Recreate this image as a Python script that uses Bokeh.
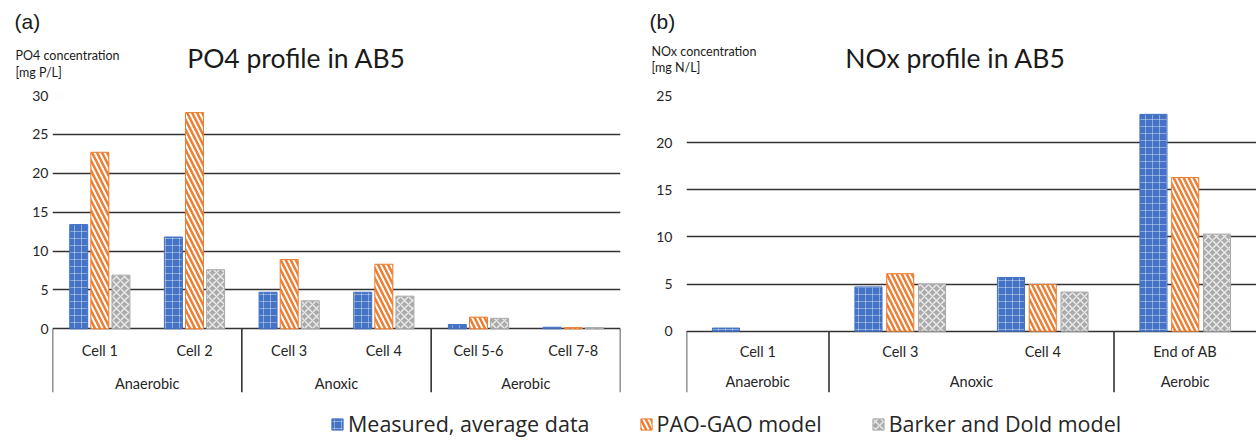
import numpy as np
from bokeh.plotting import figure
from bokeh.models import (ColumnDataSource, FactorRange, Range1d, FixedTicker,
                          Label, Legend, LegendItem)
from bokeh.transform import dodge
from bokeh.layouts import column, row
from bokeh.core.properties import value
from bokeh.embed import file_html
from bokeh.resources import INLINE

# ---------------- data ----------------
po4_cells = ["Cell 1", "Cell 2", "Cell 3", "Cell 4", "Cell 5-6", "Cell 7-8"]
po4_phases = ["Anaerobic", "Anaerobic", "Anoxic", "Anoxic", "Aerobic", "Aerobic"]
po4_measured = [13.4, 11.8, 4.7, 4.7, 0.55, 0.2]
po4_paogao = [22.7, 27.8, 8.9, 8.3, 1.5, 0.15]
po4_barker = [6.9, 7.6, 3.6, 4.2, 1.35, 0.15]
po4_ticks = [0, 5, 10, 15, 20, 25, 30]

nox_cells = ["Cell 1", "Cell 3", "Cell 4", "End of AB"]
nox_phases = ["Anaerobic", "Anoxic", "Anoxic", "Aerobic"]
nox_measured = [0.33, 4.7, 5.7, 23.0]
nox_paogao = [None, 6.1, 4.95, 16.3]
nox_barker = [None, 5.0, 4.15, 10.3]
nox_ticks = [0, 5, 10, 15, 20, 25]

series_names = ["Measured, average data", "PAO-GAO model", "Barker and Dold model"]

# ---------------- styles ----------------
STYLES = [
    dict(fill_color="#4472C4", line_color="#4472C4", hatch_pattern="cross",
         hatch_color="white", hatch_alpha=0.38, hatch_scale=7, hatch_weight=1),
    dict(fill_color="#ED7D31", line_color="#ED7D31", hatch_pattern="left_diagonal_line",
         hatch_color="white", hatch_alpha=1.0, hatch_scale=10, hatch_weight=2),
    dict(fill_color="#ABABAB", line_color="#ABABAB", hatch_pattern="diagonal_cross",
         hatch_color="white", hatch_alpha=0.75, hatch_scale=8, hatch_weight=1.4),
]
OFFSETS = [-0.223, 0.0, 0.223]
BAR_W = 0.19
FONT = "Lato"
TXT = "#262626"
GRID = "#333333"

W1, W2 = 644, 612          # widths of the left / right columns
HEAD_H = 80                # header strip height
ROW_H = 320                # chart row height
LEG_H = 41                 # legend strip height


def as_float(vals):
    return np.array([np.nan if v is None else v for v in vals], dtype=float)


def header(width, texts):
    h = figure(width=width, height=HEAD_H, x_range=Range1d(0, 1), y_range=Range1d(0, 1),
               output_backend="svg", toolbar_location=None, title=None,
               x_axis_location=None, y_axis_location=None, min_border=0,
               outline_line_color=None)
    h.xgrid.visible = False
    h.ygrid.visible = False
    for (t, x, y, font, size, align) in texts:
        h.add_layout(Label(x=x, y=HEAD_H - y, x_units="screen", y_units="screen",
                           text=t, text_font=font, text_font_size=size,
                           text_color="#1a1a1a", text_align=align,
                           text_baseline="middle"))
    return h


def make_panel(cells, phases, measured, paogao, barker, ticks, fig_w,
               border_left, border_right, border_top, axis_px, table_px,
               standoff, cell_dy, group_dy, draw_last_sep):
    factors = list(zip(phases, cells))
    xr = FactorRange(*factors, factor_padding=0, group_padding=0,
                     subgroup_padding=0, range_padding=0)
    ymax = ticks[-1]
    ymin = -ymax * table_px / axis_px
    border_bottom = ROW_H - border_top - int(round(axis_px + table_px))
    p = figure(x_range=xr, y_range=Range1d(ymin, ymax), width=fig_w, height=ROW_H,
               output_backend="svg", toolbar_location=None, title=None,
               x_axis_location=None, y_axis_location="left",
               min_border_left=border_left, min_border_right=border_right,
               min_border_top=border_top, min_border_bottom=border_bottom,
               outline_line_color=None)
    p.xgrid.visible = False
    p.ygrid.ticker = FixedTicker(ticks=ticks)
    p.ygrid.grid_line_color = GRID
    p.ygrid.grid_line_width = 1.6
    p.yaxis.ticker = FixedTicker(ticks=ticks)
    p.yaxis.axis_line_color = None
    p.yaxis.major_tick_line_color = None
    p.yaxis.minor_tick_line_color = None
    p.yaxis.major_tick_out = 0
    p.yaxis.major_tick_in = 0
    p.yaxis.major_label_standoff = standoff
    p.yaxis.major_label_text_font = FONT
    p.yaxis.major_label_text_font_size = "14px"
    p.yaxis.major_label_text_color = TXT

    src = ColumnDataSource(dict(x=factors, m=as_float(measured),
                                pg=as_float(paogao), bd=as_float(barker)))
    for key, off, st in zip(["m", "pg", "bd"], OFFSETS, STYLES):
        p.vbar(x=dodge("x", off, range=xr), top=key, bottom=0, width=BAR_W,
               source=src, line_width=1, **st)

    # category "table" below the axis
    px_per_unit = axis_px / ymax
    sizes = []
    for ph in phases:
        if not sizes or sizes[-1][0] != ph:
            sizes.append([ph, 0])
        sizes[-1][1] += 1
    seps = [0] + list(np.cumsum([s[1] for s in sizes]))
    if not draw_last_sep:
        seps = seps[:-1]
    seps = [float(s) for s in seps]
    p.segment(x0=seps, y0=[0] * len(seps), x1=seps, y1=[ymin] * len(seps),
              line_color=GRID, line_width=1.6)
    p.text(x=factors, y=[-cell_dy / px_per_unit] * len(factors), text=cells,
           text_align="center", text_baseline="middle", text_font=value(FONT),
           text_font_size="14.5px", text_color=TXT)
    groups = [s[0] for s in sizes]
    p.text(x=groups, y=[-group_dy / px_per_unit] * len(groups), text=groups,
           text_align="center", text_baseline="middle", text_font=value(FONT),
           text_font_size="14.5px", text_color=TXT)
    return p


# headers (positions in page pixels, relative to each column's left edge)
h1 = header(W1, [("(a)", 14, 21, "Liberation Sans", "21px", "left"),
                 ("PO4 concentration", 15, 55, FONT, "12.5px", "left"),
                 ("[mg P/L]", 15, 72, FONT, "12.5px", "left"),
                 ("PO4 profile in AB5", 296, 57, FONT, "26.5px", "center")])
h2 = header(W2, [("(b)", 649 - W1, 21, "Liberation Sans", "21px", "left"),
                 ("NOx concentration", 651 - W1, 51, FONT, "12.5px", "left"),
                 ("[mg N/L]", 651 - W1, 67, FONT, "12.5px", "left"),
                 ("NOx profile in AB5", 955 - W1, 57, FONT, "26.5px", "center")])

# left chart: frame x 52..620, y 95 (30) .. 328.3 (0) .. 392 (table bottom)
p1 = make_panel(po4_cells, po4_phases, po4_measured, po4_paogao, po4_barker, po4_ticks,
                fig_w=W1, border_left=52, border_right=W1 - 620, border_top=95 - HEAD_H,
                axis_px=233.3, table_px=63.7, standoff=4, cell_dy=21.7, group_dy=55,
                draw_last_sep=True)

# right chart: frame x 686..1256, y 90 (25) .. 336 (0) .. 400 (table bottom)
p2 = make_panel(nox_cells, nox_phases, nox_measured, nox_paogao, nox_barker, nox_ticks,
                fig_w=W2, border_left=686 - W1, border_right=0, border_top=90 - HEAD_H,
                axis_px=246, table_px=64, standoff=14, cell_dy=21, group_dy=53,
                draw_last_sep=False)

# legend strip
leg_factors = list(zip(po4_phases, po4_cells))
lxr = FactorRange(*leg_factors, factor_padding=0, group_padding=0, range_padding=0)
pl = figure(width=W1 + W2, height=LEG_H, x_range=lxr, y_range=Range1d(1000, 1001),
            output_backend="svg", toolbar_location=None, title=None,
            x_axis_location=None, y_axis_location=None, min_border=0,
            outline_line_color=None)
pl.xgrid.visible = False
pl.ygrid.visible = False
lsrc = ColumnDataSource(dict(x=leg_factors, m=as_float(po4_measured),
                             pg=as_float(po4_paogao), bd=as_float(po4_barker)))
items = []
for key, off, st, name in zip(["m", "pg", "bd"], OFFSETS, STYLES, series_names):
    r = pl.vbar(x=dodge("x", off, range=lxr), top=key, bottom=0, width=BAR_W,
                source=lsrc, line_width=1, **st)
    items.append(LegendItem(label=name, renderers=[r]))
legend = Legend(items=items, orientation="horizontal", location=(330, 3),
                padding=0, margin=0, spacing=49, glyph_width=14, glyph_height=14,
                label_standoff=4, label_text_font="Open Sans",
                label_text_font_size="21.5px", label_text_color=TXT,
                border_line_color=None, background_fill_alpha=0)
pl.add_layout(legend)

layout = column(row(h1, h2), row(p1, p2), pl)
open("out.html", "w").write(file_html(layout, INLINE))
